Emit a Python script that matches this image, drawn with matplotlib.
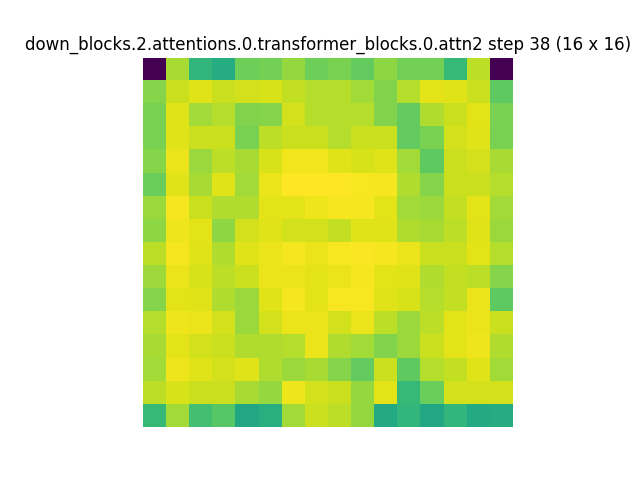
import numpy as np
import matplotlib
matplotlib.use('Agg')
import matplotlib.pyplot as plt

layer_name = 'down_blocks.2.attentions.0.transformer_blocks.0.attn2'
step = 38

# normalized attention map values (row 0 = top)
row00 = [0.00, 0.87, 0.66, 0.62, 0.78, 0.79, 0.84, 0.78, 0.80, 0.76, 0.83, 0.79, 0.79, 0.67, 0.90, 0.00]
row01 = [0.82, 0.92, 0.95, 0.92, 0.93, 0.94, 0.91, 0.89, 0.89, 0.86, 0.81, 0.89, 0.96, 0.95, 0.92, 0.75]
row02 = [0.80, 0.95, 0.86, 0.89, 0.81, 0.82, 0.93, 0.89, 0.89, 0.89, 0.81, 0.76, 0.88, 0.92, 0.96, 0.80]
row03 = [0.80, 0.95, 0.92, 0.92, 0.80, 0.90, 0.92, 0.92, 0.89, 0.92, 0.92, 0.76, 0.80, 0.93, 0.95, 0.80]
row04 = [0.82, 0.97, 0.85, 0.90, 0.87, 0.94, 0.98, 0.98, 0.95, 0.94, 0.95, 0.86, 0.75, 0.92, 0.93, 0.87]
row05 = [0.77, 0.95, 0.87, 0.95, 0.86, 0.97, 1.00, 1.00, 1.00, 0.99, 0.985, 0.88, 0.82, 0.92, 0.92, 0.89]
row06 = [0.85, 0.985, 0.92, 0.88, 0.88, 0.96, 0.96, 0.975, 0.985, 0.985, 0.96, 0.86, 0.85, 0.91, 0.96, 0.86]
row07 = [0.83, 0.975, 0.96, 0.83, 0.93, 0.95, 0.93, 0.93, 0.91, 0.95, 0.95, 0.88, 0.87, 0.90, 0.95, 0.85]
row08 = [0.90, 0.985, 0.95, 0.88, 0.95, 0.97, 0.985, 0.97, 0.99, 0.995, 0.985, 0.97, 0.92, 0.92, 0.96, 0.89]
row09 = [0.855, 0.97, 0.94, 0.90, 0.92, 0.97, 0.97, 0.96, 0.97, 0.985, 0.96, 0.95, 0.88, 0.91, 0.90, 0.82]
row10 = [0.82, 0.96, 0.95, 0.88, 0.85, 0.95, 0.985, 0.96, 0.99, 0.99, 0.95, 0.94, 0.89, 0.91, 0.97, 0.75]
row11 = [0.89, 0.975, 0.97, 0.93, 0.85, 0.93, 0.97, 0.97, 0.93, 0.97, 0.90, 0.85, 0.90, 0.96, 0.97, 0.92]
row12 = [0.87, 0.96, 0.93, 0.92, 0.88, 0.88, 0.89, 0.97, 0.88, 0.86, 0.81, 0.85, 0.92, 0.96, 0.975, 0.88]
row13 = [0.86, 0.975, 0.95, 0.93, 0.95, 0.88, 0.85, 0.87, 0.82, 0.76, 0.92, 0.75, 0.89, 0.91, 0.95, 0.86]
row14 = [0.90, 0.94, 0.92, 0.92, 0.87, 0.84, 0.975, 0.93, 0.92, 0.84, 0.96, 0.67, 0.77, 0.93, 0.93, 0.93]
row15 = [0.67, 0.86, 0.70, 0.74, 0.60, 0.63, 0.86, 0.92, 0.90, 0.84, 0.61, 0.66, 0.60, 0.66, 0.61, 0.62]

attn = np.array([row00, row01, row02, row03, row04, row05, row06, row07,
                 row08, row09, row10, row11, row12, row13, row14, row15])

plt.figure()
plt.imshow(attn, cmap='viridis')
plt.axis('off')
plt.title('%s step %d (%d x %d)' % (layer_name, step, attn.shape[0], attn.shape[1]))
plt.savefig('out.png')
plt.close()
